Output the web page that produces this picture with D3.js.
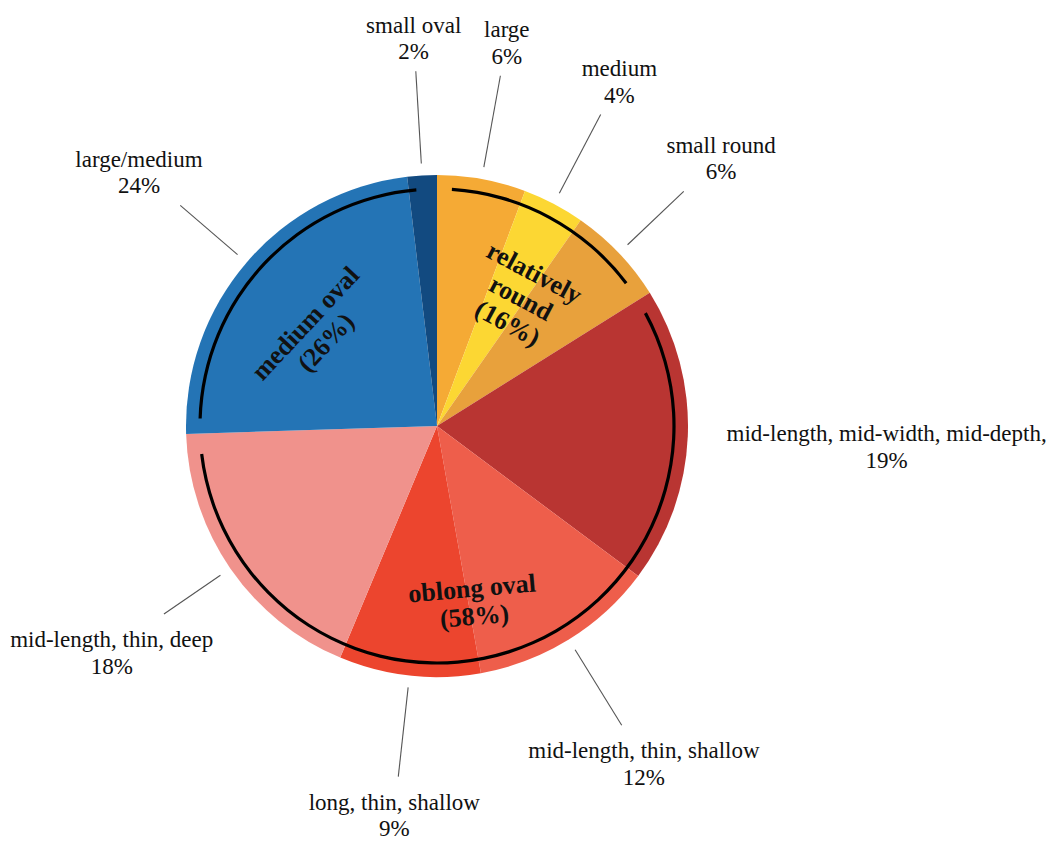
<!DOCTYPE html>
<html>
<head>
<meta charset="utf-8">
<script src="https://cdn.jsdelivr.net/npm/d3@7"></script>
<style>
  html, body { margin: 0; padding: 0; background: #fff; }
  svg { display: block; }
</style>
</head>
<body>
<svg id="chart" width="1053" height="842"></svg>
<script>
// ---- data ----
const categories = [
  "large", "medium", "small round",
  "mid-length, mid-width, mid-depth,", "mid-length, thin, shallow",
  "long, thin, shallow", "mid-length, thin, deep",
  "large/medium", "small oval"
];
const values = [5.7, 4.0, 6.4, 19.1, 12.0, 9.1, 18.2, 23.6, 1.9];
const sliceColors = ["#F5AA35", "#FCD733", "#E8A13C", "#B93532", "#EE5E4B", "#EC452E", "#F0928C", "#2474B5", "#124A80"];

const groupNames = [["relatively", "round"], ["oblong oval"], ["medium oval"]];
const groupMembers = [[0, 1, 2], [3, 4, 5, 6], [7, 8]];

// ---- layout ----
const W = 1053, H = 842;
const cx = 437, cy = 426, R = 251;
const ringR = 237, ringW = 3.2;
const startPad = 3.6 * Math.PI / 180, endPad = 5 * Math.PI / 180;
const labelRadius = [392, 392, 392, 450, 394, 389, 395, 393, 391];
const showLeader = [true, true, true, false, true, true, true, true, true];
const leaderInner = 263;
const groupLabelLayout = [
  { r: 153, dA: 4.3, rot: 28, spacing: 28.5 },
  { r: 180, dA: 5.3, rot: -5, spacing: 28 },
  { r: 153, dA: -6.6, rot: -47, spacing: 28 }
];

const svg = d3.select("#chart");
svg.append("rect").attr("width", W).attr("height", H).attr("fill", "#fff");
const g = svg.append("g").attr("transform", `translate(${cx},${cy})`);

const pie = d3.pie().sort(null).value(d => d);
const arcs = pie(values);
const arcGen = d3.arc().innerRadius(0).outerRadius(R);

g.selectAll("path.slice").data(arcs).enter().append("path")
  .attr("class", "slice")
  .attr("d", arcGen)
  .attr("fill", (d, i) => sliceColors[i]);

// group rings
const ringArc = d3.arc().innerRadius(ringR - ringW / 2).outerRadius(ringR + ringW / 2);
const total = d3.sum(values);
groupMembers.forEach((mem, gi) => {
  const s = arcs[mem[0]].startAngle;
  const e = arcs[mem[mem.length - 1]].endAngle;
  g.append("path")
    .attr("d", ringArc({ startAngle: s + startPad, endAngle: e - endPad }))
    .attr("fill", "#000");

  // group label
  const pct = Math.round(d3.sum(mem, i => values[i]) / total * 100);
  const lines = groupNames[gi].concat([`(${pct}%)`]);
  const L = groupLabelLayout[gi];
  const a = (s + e) / 2 + L.dA * Math.PI / 180;
  const px = L.r * Math.sin(a), py = -L.r * Math.cos(a);
  const t = g.append("text")
    .attr("transform", `translate(${px},${py}) rotate(${L.rot})`)
    .attr("text-anchor", "middle")
    .attr("font-family", "'Liberation Serif', 'Times New Roman', serif")
    .attr("font-weight", "bold")
    .attr("font-size", 26)
    .attr("fill", "#111");
  const n = lines.length;
  lines.forEach((ln, k) => {
    const off = (k - (n - 1) / 2) * L.spacing + 8.5;
    t.append("tspan").attr("x", 0).attr("y", off).text(ln);
  });
});

// outer labels and leader lines
const labelG = g.append("g");
arcs.forEach((d, i) => {
  const a = (d.startAngle + d.endAngle) / 2;
  const pctText = Math.round(values[i] / total * 100) + "%";
  const lr = labelRadius[i];
  const tx = lr * Math.sin(a), ty = -lr * Math.cos(a) + 2;
  const t = labelG.append("text")
    .attr("text-anchor", "middle")
    .attr("font-family", "'Liberation Serif', 'Times New Roman', serif")
    .attr("font-size", 23)
    .attr("fill", "#111");
  t.append("tspan").attr("x", tx).attr("y", ty - 5).text(categories[i]);
  t.append("tspan").attr("x", tx).attr("y", ty + 21.5).text(pctText);

  if (showLeader[i]) {
    const bb = t.node().getBBox();
    const x0 = bb.x - 8, x1 = bb.x + bb.width + 8;
    const y0 = bb.y - 13, y1 = bb.y + bb.height + 7;
    const dx = Math.sin(a), dy = -Math.cos(a);
    function slab(o, dv, lo, hi) {
      if (Math.abs(dv) < 1e-9) return (o >= lo && o <= hi) ? [-Infinity, Infinity] : [Infinity, -Infinity];
      const t1 = (lo - o) / dv, t2 = (hi - o) / dv;
      return [Math.min(t1, t2), Math.max(t1, t2)];
    }
    const sx = slab(0, dx, x0, x1), sy = slab(0, dy, y0, y1);
    const tEnter = Math.max(sx[0], sy[0]);
    if (tEnter > leaderInner) {
      labelG.append("line")
        .attr("x1", leaderInner * dx).attr("y1", leaderInner * dy)
        .attr("x2", tEnter * dx).attr("y2", tEnter * dy)
        .attr("stroke", "#555").attr("stroke-width", 1.1);
    }
  }
});
</script>
</body>
</html>
